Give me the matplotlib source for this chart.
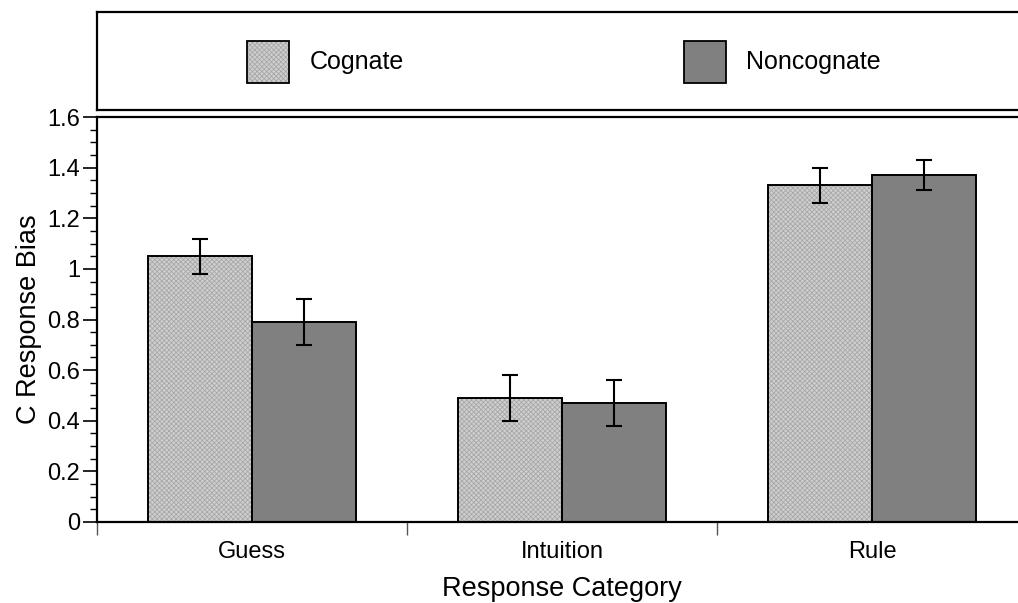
import matplotlib
matplotlib.use("Agg")
import matplotlib.pyplot as plt
from matplotlib.patches import Rectangle
import numpy as np

plt.rcParams['font.family'] = ['Liberation Sans', 'DejaVu Sans']
plt.rcParams['hatch.linewidth'] = 0.6

categories = ["Guess", "Intuition", "Rule"]
series_names = ["Cognate", "Noncognate"]
cognate = [1.05, 0.49, 1.33]
cognate_err = [0.07, 0.09, 0.07]
noncognate = [0.79, 0.47, 1.37]
noncognate_err = [0.09, 0.09, 0.06]
y_ticks = [0, 0.2, 0.4, 0.6, 0.8, 1.0, 1.2, 1.4, 1.6]
y_tick_labels = ["0", "0.2", "0.4", "0.6", "0.8", "1", "1.2", "1.4", "1.6"]

W, H = 1018, 603
fig = plt.figure(figsize=(W / 100, H / 100), dpi=100)

ax = fig.add_axes([97 / W, 1 - 522 / H, 930 / W, 405 / H])
lax = fig.add_axes([97 / W, 1 - 110 / H, 930 / W, 98 / H])

light_face = "#cfcfcf"
light_hatch = "#a8a8a8"
dark_face = "#808080"
bar_w = 0.335

x = np.arange(len(categories)) + 0.5


def draw_bars(xpos, vals, errs, style):
    if style == "light":
        ax.bar(xpos, vals, bar_w, color=light_face, edgecolor=light_hatch,
               hatch="xxxxxxx", linewidth=0, zorder=2)
    else:
        ax.bar(xpos, vals, bar_w, color=dark_face, linewidth=0, zorder=2)
    ax.bar(xpos, vals, bar_w, facecolor="none", edgecolor="black",
           linewidth=1.4, zorder=3)
    ax.errorbar(xpos, vals, yerr=errs, fmt="none", ecolor="black",
                elinewidth=1.5, capsize=6, capthick=1.5, zorder=4)


draw_bars(x - bar_w / 2, cognate, cognate_err, "light")
draw_bars(x + bar_w / 2, noncognate, noncognate_err, "dark")

ax.set_xlim(0, 3)
ax.set_ylim(0, 1.6)
ax.set_yticks(y_ticks)
ax.set_yticklabels(y_tick_labels, fontsize=17)
ax.set_yticks(np.arange(0, 1.6001, 0.05), minor=True)
ax.tick_params(axis="y", which="major", length=10, width=1.2, direction="out", pad=2)
ax.tick_params(axis="y", which="minor", length=5, width=1.0, direction="out")

ax.set_xticks([0, 1, 2, 3])
ax.set_xticklabels([])
ax.set_xticks(x, minor=True)
ax.set_xticklabels(categories, minor=True, fontsize=17)
ax.tick_params(axis="x", which="major", length=9, width=1.0, color="#555555")
ax.tick_params(axis="x", which="minor", length=0, pad=14)

ax.spines["right"].set_visible(False)
for side in ["left", "bottom", "top"]:
    ax.spines[side].set_linewidth(1.6)

ax.set_ylabel("C Response Bias", fontsize=19.5, labelpad=4)
ax.set_xlabel("Response Category", fontsize=19.5, labelpad=9)

# Legend panel above the plot (coordinates in panel pixels)
lax.set_xlim(0, 930)
lax.set_ylim(0, 98)
lax.set_xticks([])
lax.set_yticks([])
for side in ["left", "bottom", "top", "right"]:
    lax.spines[side].set_linewidth(1.6)

key_specs = [(247 - 97, 310 - 97, "light"), (684 - 97, 746 - 97, "dark")]
for (kx, tx, style), name in zip(key_specs, series_names):
    if style == "light":
        lax.add_patch(Rectangle((kx, 27), 42, 42, facecolor=light_face,
                                edgecolor=light_hatch, hatch="xxxxxxx", linewidth=0))
    else:
        lax.add_patch(Rectangle((kx, 27), 42, 42, facecolor=dark_face, linewidth=0))
    lax.add_patch(Rectangle((kx, 27), 42, 42, facecolor="none",
                            edgecolor="black", linewidth=1.3))
    lax.text(tx, 48, name, va="center", ha="left", fontsize=18)

fig.savefig("out.png", dpi=100)
